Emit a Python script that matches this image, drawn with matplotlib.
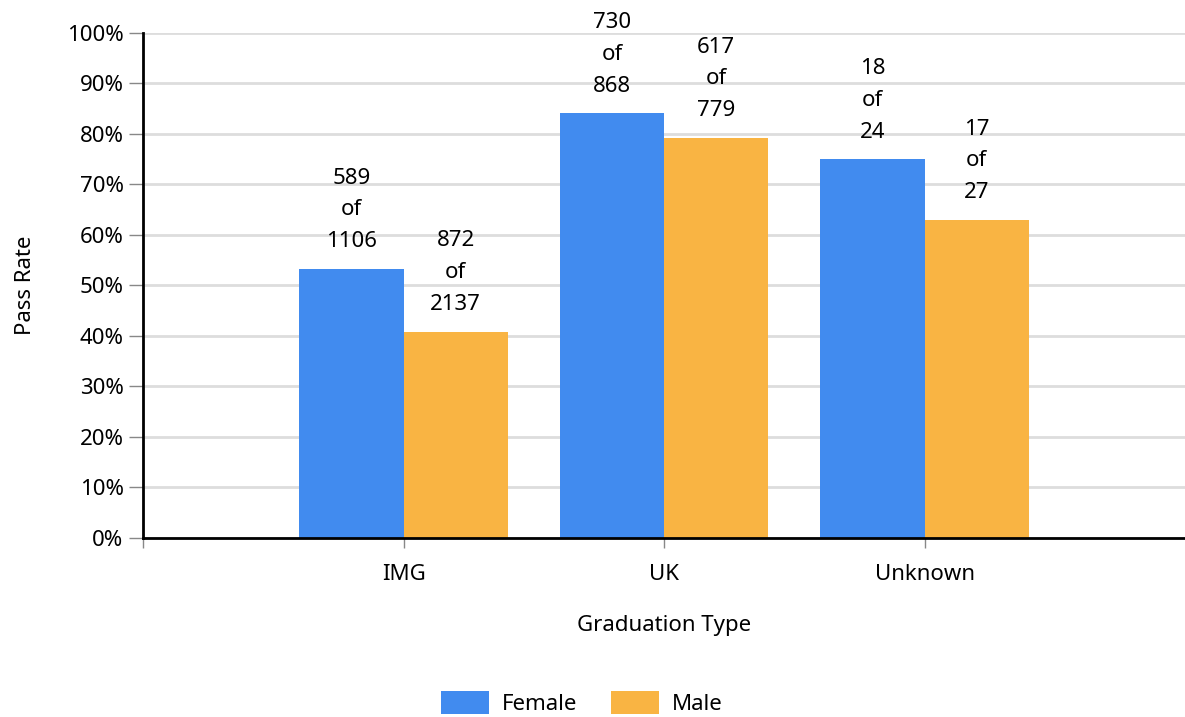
import numpy as np
import matplotlib.pyplot as plt
from matplotlib.ticker import PercentFormatter

plt.rcParams['font.family'] = ['Noto Sans', 'DejaVu Sans']

categories = ["IMG", "UK", "Unknown"]
female_pass = [589, 730, 18]
female_total = [1106, 868, 24]
male_pass = [872, 617, 17]
male_total = [2137, 779, 27]

female_rate = [100 * p / t for p, t in zip(female_pass, female_total)]
male_rate = [100 * p / t for p, t in zip(male_pass, male_total)]

blue = "#418bef"
orange = "#f9b443"

fig = plt.figure(figsize=(11.85, 7.17), dpi=100)
ax = fig.add_axes([0.1207, 0.2497, 0.8793, 0.7043])

x = np.arange(len(categories))
w = 0.4
b1 = ax.bar(x - w / 2, female_rate, w, color=blue, label="Female", zorder=2)
b2 = ax.bar(x + w / 2, male_rate, w, color=orange, label="Male", zorder=2)

for bars, ps, ts in [(b1, female_pass, female_total), (b2, male_pass, male_total)]:
    for bar, p, t in zip(bars, ps, ts):
        ax.annotate(f"{p}\nof\n{t}", (bar.get_x() + bar.get_width() / 2, bar.get_height()),
                    xytext=(0, 12), textcoords="offset points", ha="center", va="bottom",
                    fontsize=16, linespacing=1.68)

ax.set_xlim(-1, 3)
ax.set_ylim(0, 100)
ax.set_yticks(np.arange(0, 101, 10))
ax.yaxis.set_major_formatter(PercentFormatter(decimals=0))
ax.set_xticks([-1, 0, 1, 2])
ax.set_xticklabels(["", "IMG", "UK", "Unknown"])
ax.tick_params(axis="both", labelsize=16, color="#888888", width=1)
ax.tick_params(axis="x", length=7, pad=12)
ax.tick_params(axis="y", length=10, pad=4)
ax.yaxis.grid(True, color="#dddddd", linewidth=2, zorder=0)
ax.set_axisbelow(True)
for s in ["top", "right"]:
    ax.spines[s].set_visible(False)
ax.spines["left"].set_linewidth(2)
ax.spines["bottom"].set_linewidth(2)

ax.set_xlabel("Graduation Type", fontsize=16, labelpad=21)
ax.set_ylabel("Pass Rate", fontsize=16, labelpad=22)

fig.legend(handles=[b1, b2], loc="lower center", bbox_to_anchor=(0.491, -0.025), ncol=2,
           frameon=False, fontsize=16, handlelength=2.15, handleheight=1.2,
           handletextpad=0.6, columnspacing=1.5)

fig.savefig("out.png", dpi=100)
